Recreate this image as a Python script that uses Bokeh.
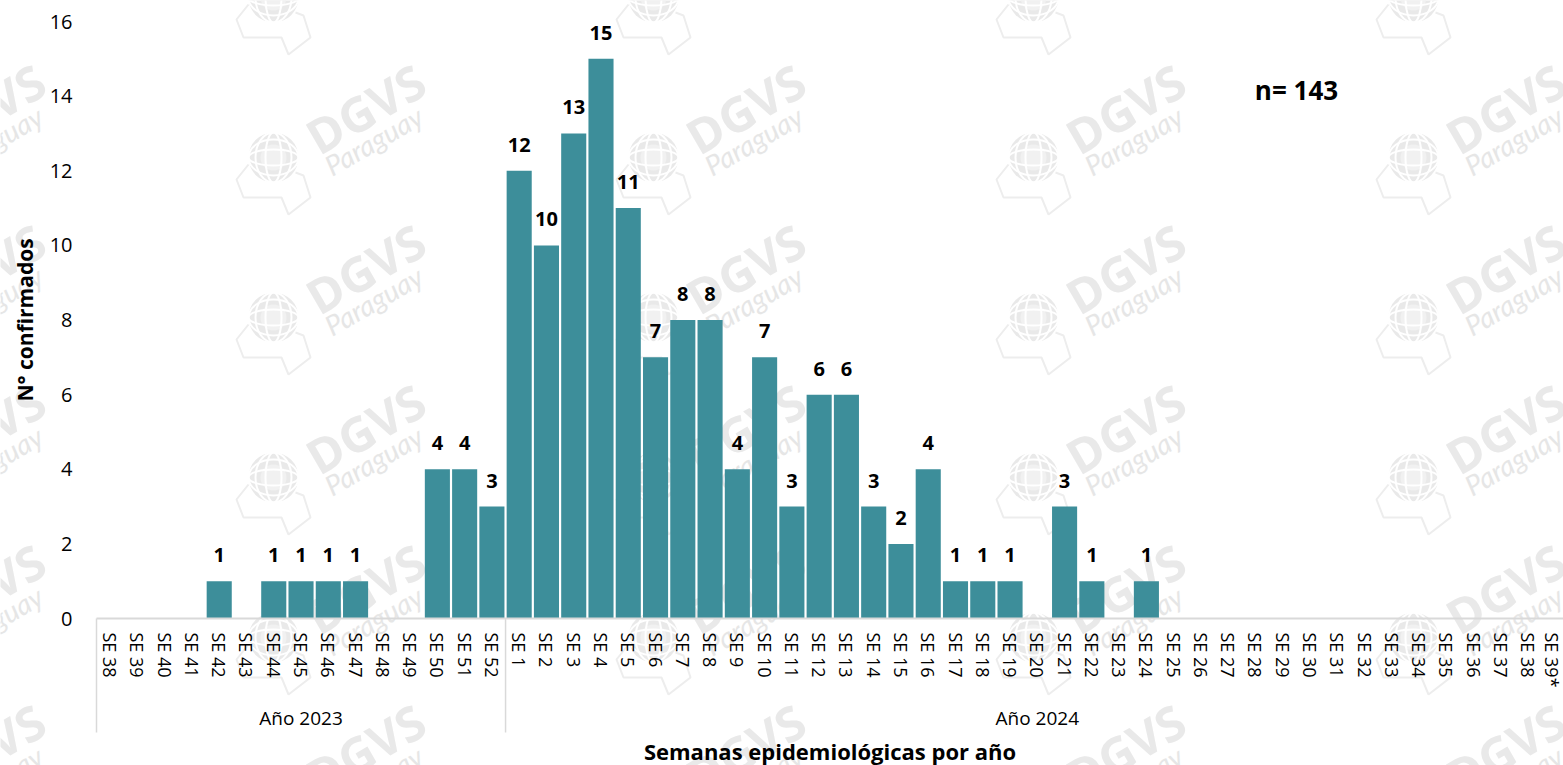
import numpy as np
from bokeh.plotting import figure
from bokeh.models import Range1d, FixedTicker, Label
from bokeh.core.properties import value
from bokeh.embed import file_html
from bokeh.resources import INLINE

# ---- data ----
weeks_2023 = ["SE 38","SE 39","SE 40","SE 41","SE 42","SE 43","SE 44","SE 45","SE 46","SE 47",
              "SE 48","SE 49","SE 50","SE 51","SE 52"]
weeks_2024 = ["SE 1","SE 2","SE 3","SE 4","SE 5","SE 6","SE 7","SE 8","SE 9","SE 10","SE 11","SE 12",
              "SE 13","SE 14","SE 15","SE 16","SE 17","SE 18","SE 19","SE 20","SE 21","SE 22","SE 23",
              "SE 24","SE 25","SE 26","SE 27","SE 28","SE 29","SE 30","SE 31","SE 32","SE 33","SE 34",
              "SE 35","SE 36","SE 37","SE 38","SE 39*"]
cases_2023 = [0,0,0,0,1,0,1,1,1,1,0,0,4,4,3]
cases_2024 = [12,10,13,15,11,7,8,8,4,7,3,6,6,3,2,4,1,1,1,0,3,1,0,1,
              0,0,0,0,0,0,0,0,0,0,0,0,0,0,0]
year_labels = ["Año 2023", "Año 2024"]
y_ticks = [0,2,4,6,8,10,12,14,16]
total_label = "n= 143"
x_title = "Semanas epidemiológicas por año"
y_title = "N° confirmados"

FONT = "Open Sans"
TEAL = "#3D8E9A"
GRID = "#D9D9D9"
WM = "#E9E9E9"

weeks = weeks_2023 + weeks_2024
cases = cases_2023 + cases_2024
idx = np.arange(len(weeks))

# page-pixel <-> data conversion (the frame fills the whole canvas)
STEP_X, STEP_Y, X0, Y0 = 27.27, 37.31, 96.0, 618.0
xd = lambda px: (np.asarray(px, float) - X0) / STEP_X - 0.5
yd = lambda py: (Y0 - np.asarray(py, float)) / STEP_Y

p = figure(width=1563, height=765, output_backend="svg", toolbar_location=None,
           x_range=Range1d(float(xd(0)), float(xd(1563))),
           y_range=Range1d(float(yd(765)), float(yd(0))),
           min_border=0, outline_line_color=None, x_axis_location="below", y_axis_location="left")
p.grid.visible = False
p.background_fill_color = "white"

# ---- watermark tiles ----
tx, ty = np.meshgrid(np.arange(-107, 1500, 380), np.arange(-3, 900, 160))
tx, ty = tx.ravel().astype(float), ty.ravel().astype(float)
gx, gy = xd(tx), yd(ty)
ang = np.radians(30)
p.scatter(gx, gy, size=50, marker="circle", fill_color=WM, line_color=None)
p.scatter(gx, gy, size=26, marker="circle", fill_color="#F1F1F1", line_color=None)
for w, h in [(16, 50), (36, 50), (50, 16), (50, 36)]:
    p.ellipse(gx, gy, width=w, height=h, width_units="screen", height_units="screen",
              fill_color=None, line_color="white", line_width=2)
outline_dx = [-25, -37, -30, 8, 15, 37, 30, 22]
outline_dy = [7, 22, 40, 40, 57, 40, 18, 15]
p.multi_line([list(xd(x + np.array(outline_dx))) for x in tx],
             [list(yd(y + np.array(outline_dy))) for y in ty],
             line_color="#EDEDED", line_width=2)
keep = ty > 0  # the top row's words lie above the page
p.text(gx[keep], gy[keep], text=["DGVS"] * int(keep.sum()), x_offset=92, y_offset=-49, angle=ang,
       text_font=value(FONT), text_font_style="bold", text_font_size="48px",
       text_color=WM, text_align="center", text_baseline="middle")
p.text(gx[keep], gy[keep], text=["Paraguay"] * int(keep.sum()), x_offset=100, y_offset=-17, angle=ang,
       text_font=value("Lato"), text_font_style="italic", text_font_size="28px",
       text_color="#E6E6E6", text_align="center", text_baseline="middle")

# ---- bars ----
p.vbar(x=idx, top=cases, width=0.92, bottom=0, fill_color=TEAL, line_color=None)

# ---- value labels ----
nz = [i for i, c in enumerate(cases) if c > 0]
p.text([idx[i] for i in nz], [cases[i] for i in nz], text=[str(cases[i]) for i in nz],
       y_offset=-26, text_font=value(FONT), text_font_style="bold", text_font_size="20px",
       text_color="black", text_align="center", text_baseline="alphabetic")

# ---- year separators and labels ----
n23 = len(weeks_2023)
edges = [-0.5, n23 - 0.5]
p.segment(x0=edges, y0=[0, 0], x1=edges, y1=[float(yd(732))] * 2, line_color=GRID, line_width=1.5)
p.text([(n23 - 1) / 2, n23 + (len(weeks_2024) - 1) / 2], [0, 0], text=year_labels, y_offset=99,
       text_font=value(FONT), text_font_size="19px", text_color="black",
       text_align="center", text_baseline="middle")

# ---- axes ----
xa = p.xaxis[0]
xa.fixed_location = 0
xa.bounds = (-0.5, 53.5)
xa.ticker = FixedTicker(ticks=list(map(int, idx)))
xa.major_label_overrides = {int(i): w for i, w in zip(idx, weeks)}
xa.major_label_orientation = "vertical"
xa.major_label_text_font = FONT
xa.major_label_text_font_size = "18px"
xa.major_label_text_color = "black"
xa.major_label_standoff = 8
xa.major_tick_line_color = None
xa.minor_tick_line_color = None
xa.axis_line_color = GRID
xa.axis_line_width = 2
xa.axis_label = x_title
xa.axis_label_text_font = FONT
xa.axis_label_text_font_style = "bold"
xa.axis_label_text_font_size = "22px"
xa.axis_label_text_color = "black"
xa.axis_label_standoff = 45

ya = p.yaxis[0]
ya.fixed_location = float(xd(96))
ya.bounds = (0, 16)
ya.ticker = FixedTicker(ticks=y_ticks)
ya.major_label_text_font = FONT
ya.major_label_text_font_size = "20px"
ya.major_label_text_color = "black"
ya.major_label_standoff = 18
ya.major_tick_line_color = None
ya.minor_tick_line_color = None
ya.axis_line_color = None
ya.axis_label = y_title
ya.axis_label_text_font = FONT
ya.axis_label_text_font_style = "bold"
ya.axis_label_text_font_size = "21px"
ya.axis_label_text_color = "black"
ya.axis_label_standoff = 8

p.add_layout(Label(x=float(xd(1296)), y=float(yd(89)), text=total_label, text_font=FONT,
                   text_font_style="bold", text_font_size="26px", text_color="black",
                   text_align="center", text_baseline="middle"))

open("out.html", "w").write(file_html(p, INLINE))
